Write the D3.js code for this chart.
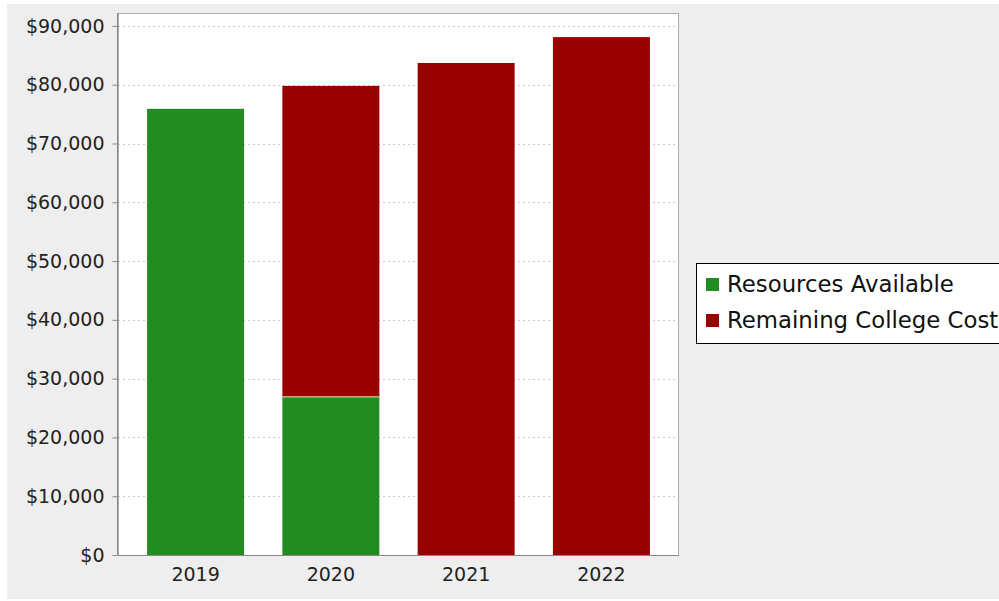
<!DOCTYPE html>
<html><head><meta charset="utf-8">
<script src="https://cdn.jsdelivr.net/npm/d3@7"></script>
<style>body{margin:0;background:#fff;}svg{display:block;}</style>
</head><body>
<svg id="c" width="999" height="601"></svg>
<script>
const categories = ["2019", "2020", "2021", "2022"];
const resourcesAvailable = [75900, 26900, 0, 0];
const remainingCollegeCost = [0, 52900, 83700, 88100];
const seriesNames = ["Resources Available", "Remaining College Cost"];
const seriesColors = ["#228b22", "#990000"];
const yTicks = [0, 10000, 20000, 30000, 40000, 50000, 60000, 70000, 80000, 90000];

const svg = d3.select("#c");
svg.append("rect").attr("x", 7).attr("y", 4).attr("width", 992).attr("height", 595).attr("fill", "#eeeeee");

const L = 118, R = 679, T = 13, B = 555;
const x = d3.scaleBand().domain(categories).range([L, R]).paddingInner(0.283).paddingOuter(0.215);
const y = d3.scaleLinear().domain([0, 92200]).range([B, T]);

svg.append("rect").attr("x", L).attr("y", T).attr("width", R - L).attr("height", B - T).attr("fill", "#fff");

// gridlines
svg.append("g").selectAll("line").data(yTicks.filter(d => d > 0)).join("line")
  .attr("x1", L).attr("x2", R).attr("y1", d => Math.round(y(d)) + 0.5).attr("y2", d => Math.round(y(d)) + 0.5)
  .attr("stroke", "#c8c8c8").attr("stroke-dasharray", "2,3");

// stacked bars
const rows = categories.map((c, i) => ({cat: c, s0: resourcesAvailable[i], s1: remainingCollegeCost[i]}));
const stack = d3.stack().keys(["s0", "s1"])(rows);
stack.forEach((layer, k) => {
  svg.append("g").selectAll("rect").data(layer.filter(d => d[1] > d[0])).join("rect")
    .attr("x", d => x(d.data.cat)).attr("width", x.bandwidth())
    .attr("y", d => y(d[1])).attr("height", d => y(d[0]) - y(d[1]))
    .attr("fill", seriesColors[k]);
});
// light edge line between segments
svg.append("g").selectAll("line").data(stack[0].filter(d => d[1] > 0 && d.data.s1 > 0)).join("line")
  .attr("x1", d => x(d.data.cat)).attr("x2", d => x(d.data.cat) + x.bandwidth())
  .attr("y1", d => y(d[1])).attr("y2", d => y(d[1]))
  .attr("stroke", "#e8e8b0").attr("stroke-width", 1);

// plot border
svg.append("rect").attr("x", L + 0.5).attr("y", T + 0.5).attr("width", R - L - 1).attr("height", B - T)
  .attr("fill", "none").attr("stroke", "#a8acb8");

// y axis
const yAxis = d3.axisLeft(y).tickValues(yTicks).tickSize(5).tickPadding(8)
  .tickFormat(d => "$" + d3.format(",")(d));
const gy = svg.append("g").attr("transform", `translate(${L - 0.5},0)`).call(yAxis);
gy.select(".domain").attr("stroke", "#888").attr("d", `M0,${T}V${B + 0.5}`);
gy.selectAll(".tick line").attr("stroke", "#888");
gy.selectAll(".tick text").attr("font-family", "DejaVu Sans").attr("font-size", 19).attr("fill", "#222");

// x axis
const xAxis = d3.axisBottom(x).tickSize(0).tickPadding(12);
const gx = svg.append("g").attr("transform", `translate(0,${B + 0.5})`).call(xAxis);
gx.select(".domain").attr("stroke", "#888").attr("d", `M${L},0H${R}`);
gx.selectAll(".tick text").attr("font-family", "DejaVu Sans").attr("font-size", 19).attr("fill", "#222");

// legend
const lg = svg.append("g");
lg.append("rect").attr("x", 696.5).attr("y", 263.5).attr("width", 310).attr("height", 80)
  .attr("fill", "#fff").attr("stroke", "#000");
seriesNames.forEach((n, i) => {
  const cy = 284 + i * 36;
  lg.append("rect").attr("x", 706).attr("y", cy - 6).attr("width", 13).attr("height", 13).attr("fill", seriesColors[i]);
  lg.append("text").attr("x", 727).attr("y", cy + 8).attr("font-family", "DejaVu Sans").attr("font-size", 22.8)
    .attr("fill", "#111").text(n);
});
</script>
</body></html>
